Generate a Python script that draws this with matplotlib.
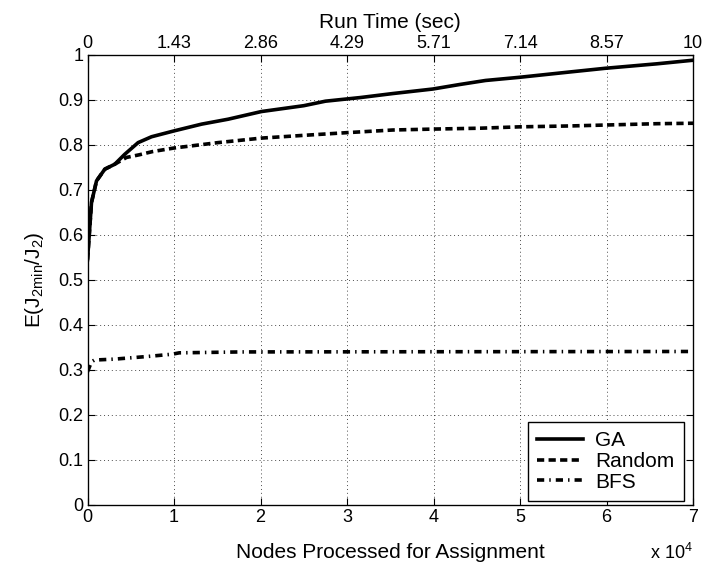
import numpy as np
import matplotlib
matplotlib.use("Agg")
import matplotlib.pyplot as plt

plt.rcParams['font.family'] = ['Liberation Sans', 'DejaVu Sans']
plt.rcParams['mathtext.default'] = 'regular'

# nodes processed, in units of 1e4
ga_x = [0, 0.046, 0.104, 0.2, 0.315, 0.43, 0.585, 0.74, 1.0, 1.318, 1.626, 2.01,
        2.5, 2.75, 3.15, 3.53, 3.99, 4.3, 4.6, 4.99, 5.58, 5.98, 6.58, 7.0]
ga_y = [0.545, 0.672, 0.72, 0.746, 0.757, 0.779, 0.805, 0.818, 0.831, 0.846, 0.857, 0.874,
        0.887, 0.897, 0.905, 0.914, 0.924, 0.934, 0.943, 0.950, 0.962, 0.970, 0.980, 0.988]

rnd_x = [0, 0.046, 0.104, 0.2, 0.315, 0.45, 0.6, 0.75, 1.0, 1.51, 2.01, 2.49, 2.99,
         3.53, 3.99, 4.54, 4.99, 5.58, 5.98, 6.58, 7.0]
rnd_y = [0.545, 0.672, 0.72, 0.746, 0.757, 0.772, 0.778, 0.785, 0.793, 0.805, 0.815, 0.821, 0.827,
         0.833, 0.835, 0.837, 0.840, 0.842, 0.844, 0.847, 0.848]

bfs_x = [0, 0.046, 0.08, 0.31, 0.7, 0.98, 1.06, 1.77, 7.0]
bfs_y = [0.296, 0.318, 0.322, 0.324, 0.33, 0.335, 0.338, 0.34, 0.341]

x_ticks = [0, 1, 2, 3, 4, 5, 6, 7]
y_ticks = [0, 0.1, 0.2, 0.3, 0.4, 0.5, 0.6, 0.7, 0.8, 0.9, 1.0]
y_labels = ['0', '0.1', '0.2', '0.3', '0.4', '0.5', '0.6', '0.7', '0.8', '0.9', '1']
time_max = 10
time_labels = ['0', '1.43', '2.86', '4.29', '5.71', '7.14', '8.57', '10']

fs = 13
fl = 15

fig = plt.figure(figsize=(7.03, 5.71), dpi=100)
ax = fig.add_axes([0.1245, 0.1156, 0.8615, 0.7884])

ax.plot(ga_x, ga_y, color='black', lw=2.6, label='GA')
ax.plot(rnd_x, rnd_y, color='black', lw=2.6, linestyle=(0, (2, 1.2)), label='Random')
ax.plot(bfs_x, bfs_y, color='black', lw=2.6, linestyle=(0, (2, 1.4, 0.4, 1.4)), label='BFS')

ax.set_xlim(0, 7)
ax.set_ylim(0, 1)
ax.set_xticks(x_ticks)
ax.set_xticklabels([str(v) for v in x_ticks])
ax.set_yticks(y_ticks)
ax.set_yticklabels(y_labels)
ax.tick_params(direction='in', length=5, labelsize=fs, right=True, width=0.8, pad=3)
ax.grid(True, linestyle=(0, (1, 3)), color='black', linewidth=0.7, alpha=0.7)
for s in ax.spines.values():
    s.set_linewidth(0.9)

ax.set_xlabel('Nodes Processed for Assignment', fontsize=fl, labelpad=12)
ax.set_ylabel(r'E(J$_{2min}$/J$_2$)', fontsize=fl, labelpad=9)
ax.text(1.0, -0.085, r'x 10$^4$', transform=ax.transAxes, ha='right', va='top', fontsize=fs)

ax2 = ax.twiny()
ax2.set_xlim(0, time_max)
tt = np.linspace(0, time_max, len(time_labels))
ax2.set_xticks(tt)
ax2.set_xticklabels(time_labels)
ax2.tick_params(direction='in', length=5, labelsize=fs, pad=2, width=0.8)
ax2.set_xlabel('Run Time (sec)', fontsize=fl, labelpad=5)

leg = ax.legend(loc='lower right', bbox_to_anchor=(684 / 703, 1 - 501 / 571),
                bbox_transform=fig.transFigure, borderaxespad=0,
                fontsize=fl, fancybox=False, edgecolor='black', framealpha=1,
                handlelength=2.2, handletextpad=0.6, labelspacing=0.08, borderpad=0.45)
leg.get_frame().set_linewidth(1.0)

fig.savefig('out.png', dpi=100)
